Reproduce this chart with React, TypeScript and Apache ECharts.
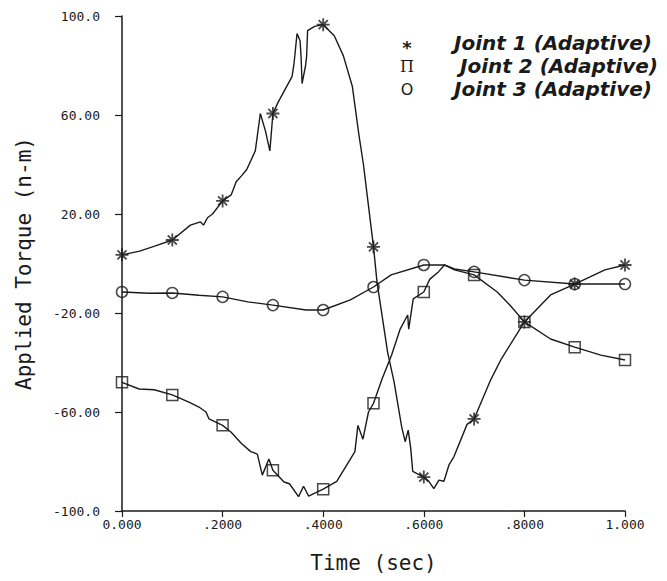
import React, { useEffect, useRef } from "react";
import * as echarts from "echarts";

const xTickLabels = ["0.000", ".2000", ".4000", ".6000", ".8000", "1.000"];
const yTickLabels = ["-100.0", "-60.00", "-20.00", "20.00", "60.00", "100.0"];
const seriesNames = ["Joint 1 (Adaptive)", "Joint 2 (Adaptive)", "Joint 3 (Adaptive)"];
const legendGlyphs = ["*", "\u03A0", "O"];

const joint1Time = [0, 0.035, 0.065, 0.1, 0.136, 0.156, 0.162, 0.17, 0.18, 0.2, 0.217, 0.227, 0.238, 0.248, 0.265, 0.275, 0.285, 0.294, 0.3, 0.31, 0.338, 0.342, 0.348, 0.354, 0.356, 0.358, 0.365, 0.367, 0.369, 0.383, 0.4, 0.422, 0.44, 0.458, 0.471, 0.48, 0.489, 0.5, 0.507, 0.513, 0.528, 0.541, 0.556, 0.563, 0.569, 0.574, 0.578, 0.6, 0.61, 0.62, 0.63, 0.64, 0.65, 0.66, 0.686, 0.7, 0.733, 0.754, 0.8, 0.852, 0.9, 0.96, 1.0];
const joint1Torque = [3.5, 5.0, 7.0, 9.5, 15.5, 16.8, 15.5, 18.5, 20.0, 25.3, 27.7, 33.0, 35.5, 38.0, 45.5, 60.6, 53.7, 45.5, 60.6, 65.0, 75.5, 80.8, 92.9, 90.0, 83.6, 72.7, 80.0, 83.6, 94.1, 95.8, 96.5, 92.0, 84.0, 71.5, 52.0, 40.0, 25.0, 6.7, -7.5, -15.6, -35.8, -47.9, -66.0, -72.0, -67.3, -74.7, -84.0, -86.3, -88.0, -91.0, -87.5, -88.0, -81.4, -78.0, -65.0, -62.8, -47.0, -38.6, -23.6, -12.7, -8.3, -2.6, -0.6];

const joint2Time = [0, 0.034, 0.064, 0.1, 0.133, 0.153, 0.167, 0.173, 0.2, 0.217, 0.237, 0.256, 0.269, 0.279, 0.292, 0.3, 0.322, 0.333, 0.351, 0.361, 0.371, 0.4, 0.427, 0.454, 0.463, 0.469, 0.479, 0.49, 0.5, 0.517, 0.536, 0.553, 0.568, 0.57, 0.579, 0.6, 0.612, 0.629, 0.641, 0.661, 0.7, 0.746, 0.771, 0.8, 0.852, 0.9, 0.952, 1.0];
const joint2Torque = [-48.0, -50.7, -51.0, -53.1, -56.0, -58.0, -60.0, -62.8, -65.4, -68.2, -72.6, -76.0, -77.0, -85.5, -79.0, -83.5, -88.3, -89.0, -94.2, -90.0, -94.0, -91.2, -88.0, -79.0, -76.0, -65.4, -71.0, -60.0, -56.5, -46.7, -37.0, -26.5, -20.8, -26.5, -14.3, -11.5, -6.3, -3.4, -0.6, -2.6, -4.6, -11.5, -16.8, -23.6, -30.5, -33.8, -37.0, -39.0];

const joint3Time = [0, 0.054, 0.1, 0.153, 0.2, 0.25, 0.3, 0.366, 0.4, 0.454, 0.5, 0.535, 0.6, 0.641, 0.661, 0.7, 0.8, 0.9, 1.0];
const joint3Torque = [-11.5, -12.0, -11.9, -12.8, -13.5, -15.5, -16.8, -18.8, -18.8, -14.7, -9.5, -4.6, -0.6, -0.6, -2.2, -3.4, -6.7, -8.3, -8.3];

const INK = "#1a1a1a";
const MONO = "'DejaVu Sans Mono', monospace";

const pairs = (t: number[], v: number[]) => t.map((x, i) => [x, v[i]]);
const markerPoints = (t: number[], v: number[]) =>
  pairs(t, v).filter(([x]) => Math.abs(x * 10 - Math.round(x * 10)) < 1e-9);

const asteriskPath =
  "path://M10 0 L10 20 M0 10 L20 10 M3 3 L17 17 M3 17 L17 3";

export default function App() {
  const ref = useRef<HTMLDivElement>(null);

  useEffect(() => {
    if (!ref.current) return;
    const chart = echarts.init(ref.current, null, { renderer: "svg" });

    const lineSeries = (name: string, t: number[], v: number[]) => ({
      name,
      type: "line",
      data: pairs(t, v),
      showSymbol: false,
      symbol: "none",
      lineStyle: { color: INK, width: 1.4 },
      silent: true,
      z: 2,
    });

    const markerSeries = (
      name: string,
      t: number[],
      v: number[],
      symbol: string,
      size: number,
      bw: number
    ) => ({
      name: name + " markers",
      type: "scatter",
      data: markerPoints(t, v),
      symbol,
      symbolSize: size,
      itemStyle: { color: "transparent", borderColor: INK, borderWidth: bw },
      silent: true,
      z: 3,
    });

    // legend rows (chart-div coordinates; the page adds an 8px body margin)
    const legendMidY = [35, 58, 81];
    const legendTextX = [446, 452, 446];
    const glyphSize = [18, 16, 16];
    const graphic: any[] = [];
    seriesNames.forEach((n, i) => {
      graphic.push({
        type: "text",
        x: 399,
        y: legendMidY[i] + (i === 0 ? 4 : 0),
        style: {
          text: legendGlyphs[i],
          fontFamily: i === 1 ? "'DejaVu Serif', serif" : "'DejaVu Sans', sans-serif",
          fontSize: glyphSize[i],
          fontWeight: i === 0 ? "bold" : "normal",
          fill: INK,
          align: "center",
          verticalAlign: "middle",
        },
      });
      graphic.push({
        type: "text",
        x: legendTextX[i],
        y: legendMidY[i],
        style: {
          text: n,
          fontFamily: "'DejaVu Sans', sans-serif",
          fontSize: 20,
          fontStyle: "italic",
          fontWeight: "bold",
          fill: INK,
          align: "left",
          verticalAlign: "middle",
        },
      });
    });

    chart.setOption({
      animation: false,
      backgroundColor: "#ffffff",
      grid: {
        left: 114,
        right: 34,
        top: 8,
        bottom: 62,
        containLabel: false,
        outerBoundsMode: "none",
      },
      xAxis: {
        type: "value",
        min: 0,
        max: 1,
        interval: 0.2,
        name: "Time (sec)",
        nameLocation: "middle",
        nameGap: 41,
        nameTextStyle: { fontFamily: MONO, fontSize: 21, color: INK },
        axisLine: { show: true, onZero: false, lineStyle: { color: INK, width: 1.5 } },
        axisTick: { show: true, length: 6, lineStyle: { color: INK, width: 1.2 } },
        axisLabel: {
          fontFamily: MONO,
          fontSize: 13,
          color: INK,
          margin: 7,
          formatter: (v: number) => xTickLabels[Math.round(v / 0.2)] ?? "",
        },
        splitLine: { show: false },
      },
      yAxis: {
        type: "value",
        min: -100,
        max: 100,
        interval: 40,
        name: "Applied Torque (n-m)",
        nameLocation: "middle",
        nameGap: 88,
        nameRotate: 90,
        nameTextStyle: { fontFamily: MONO, fontSize: 21, color: INK },
        axisLine: { show: true, onZero: false, lineStyle: { color: INK, width: 1.5 } },
        axisTick: { show: true, length: 7, lineStyle: { color: INK, width: 1.2 } },
        axisLabel: {
          fontFamily: MONO,
          fontSize: 13,
          color: INK,
          margin: 22,
          formatter: (v: number) => yTickLabels[Math.round((v + 100) / 40)] ?? "",
        },
        splitLine: { show: false },
      },
      series: [
        lineSeries(seriesNames[0], joint1Time, joint1Torque),
        lineSeries(seriesNames[1], joint2Time, joint2Torque),
        lineSeries(seriesNames[2], joint3Time, joint3Torque),
        markerSeries(seriesNames[0], joint1Time, joint1Torque, asteriskPath, 13, 1.8),
        markerSeries(seriesNames[1], joint2Time, joint2Torque, "rect", 11, 1.5),
        markerSeries(seriesNames[2], joint3Time, joint3Torque, "circle", 11, 1.5),
      ],
      graphic,
    });

    return () => chart.dispose();
  }, []);

  return <div ref={ref} style={{ width: 651, height: 565 }} />;
}
